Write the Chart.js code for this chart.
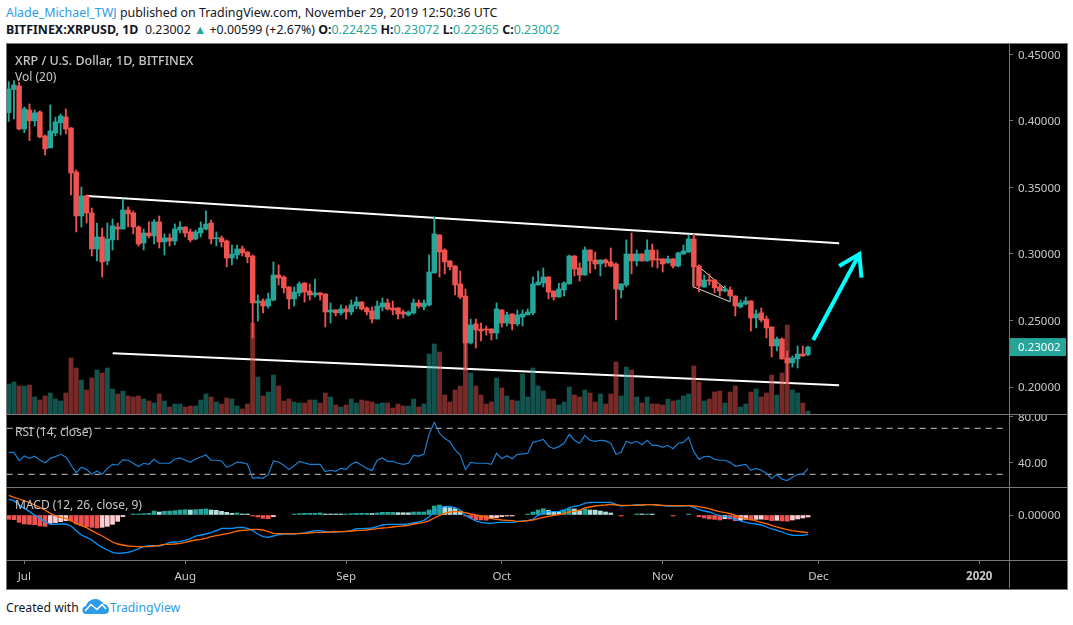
<!DOCTYPE html>
<html><head><meta charset="utf-8">
<script src="https://cdn.jsdelivr.net/npm/chart.js@4/dist/chart.umd.min.js"></script>
<style>
html,body{margin:0;padding:0;background:#fff;width:1073px;height:625px;overflow:hidden;font-family:"Noto Sans",sans-serif}
.t{position:absolute;white-space:nowrap;line-height:16px}
canvas{position:absolute;display:block}
.frame{position:absolute;left:6px;top:43px;width:1060px;height:545px;background:#000;border:1px solid #787878;box-sizing:content-box}
.ln{position:absolute;background:#787878}
.leg{color:#c8c8c8;font-size:12px;z-index:5}
</style></head><body>
<div class="t" style="left:6px;top:5px;font-size:12.4px;color:#131722"><span style="color:#2e9be6">Alade_Michael_TWJ</span> published on TradingView.com, November 29, 2019 12:50:36 UTC</div>
<div class="t" style="left:6px;top:22px;font-size:12.4px;color:#131722"><b>BITFINEX:XRPUSD, 1D</b>&nbsp; 0.23002 <span style="color:#26a69a">▲</span> +0.00599 (+2.67%) <b>O:</b><span style="color:#26a69a">0.22425</span> <b>H:</b><span style="color:#26a69a">0.23072</span> <b>L:</b><span style="color:#26a69a">0.22365</span> <b>C:</b><span style="color:#26a69a">0.23002</span></div>
<div class="frame"></div>
<canvas id="main" width="1059" height="370" style="left:7px;top:44px"></canvas>
<canvas id="rsi" width="1059" height="72" style="left:7px;top:415px"></canvas>
<canvas id="macd" width="1059" height="100" style="left:7px;top:488px"></canvas>
<div class="ln" style="left:6px;top:414px;width:1061px;height:1px"></div>
<div class="ln" style="left:6px;top:487px;width:1061px;height:1px"></div>
<div class="ln" style="left:6px;top:560px;width:1061px;height:1px"></div>
<div class="ln" style="left:1009px;top:43px;width:1px;height:545px"></div>
<div class="t leg" style="left:15px;top:53px;font-size:12.5px;font-weight:500">XRP / U.S. Dollar, 1D, BITFINEX</div>
<div class="t leg" style="left:15px;top:69px">Vol (20)</div>
<div class="t leg" style="left:15px;top:424px">RSI (14, close)</div>
<div class="t leg" style="left:15px;top:497px">MACD (12, 26, close, 9)</div>
<div class="t" style="left:6px;top:600px;font-size:12.2px;color:#131722">Created with</div>
<svg style="position:absolute;left:82px;top:598px" width="27" height="17" viewBox="0 0 27 17"><path d="M4 16 C1 16 0 13 0.5 11 C1 9 3 8 4 8 C5 4 9 1 13 1 C17 1 20 3 21.5 6 C24.5 6 27 9 27 12 C27 15 24.5 16 22 16 Z" fill="#2e9be6"/><path d="M3 13 L9 6.5 L15 11.5 L20 6.5 L24 11" fill="none" stroke="#fff" stroke-width="1.6"/></svg>
<div class="t" style="left:110px;top:600px;font-size:12.2px;color:#2e9be6">TradingView</div>
<script>
const monthTickDays=[0,31,62,92,123,153,184];
const monthTickLabels=['Jul','Aug','Sep','Oct','Nov','Dec','2020'];
const priceTicks=[0.45,0.40,0.35,0.30,0.25,0.20];
const lastPrice=0.23002;
const rsiTicks=[80,40];
const macdTicks=[0];
const opens=[.4063,.4236,.4264,.3940,.4083,.4001,.4068,.3888,.3798,.3910,.3986,.4031,.3948,.3617,.3286,.3437,.3309,.3038,.3128,.2948,.3106,.3203,.3188,.3331,.3309,.3203,.3083,.3158,.3136,.3241,.3091,.3121,.3098,.3181,.3203,.3166,.3113,.3158,.3188,.3233,.3116,.3121,.3098,.2970,.2993,.3038,.3015,.2985,.2632,.2647,.2609,.2654,.2842,.2827,.2752,.2662,.2707,.2782,.2722,.2692,.2707,.2699,.2564,.2579,.2557,.2587,.2564,.2609,.2639,.2594,.2572,.2511,.2602,.2632,.2594,.2594,.2564,.2542,.2557,.2632,.2602,.2617,.2857,.3143,.3030,.2948,.2910,.2775,.2684,.2331,.2474,.2436,.2436,.2436,.2406,.2579,.2481,.2549,.2474,.2526,.2542,.2557,.2767,.2782,.2827,.2722,.2677,.2730,.2775,.2985,.2895,.2842,.3030,.2955,.2925,.2955,.2940,.2925,.2730,.2767,.3000,.2948,.3000,.2948,.3030,.2963,.2963,.2933,.2963,.2910,.3000,.3015,.3113,.2910,.2752,.2805,.2805,.2752,.2722,.2730,.2684,.2602,.2624,.2647,.2519,.2557,.2511,.2451,.2308,.2361,.2218,.2181,.2211,.2248,.22425];
const highs=[.4296,.4304,.4291,.4105,.4128,.4083,.4076,.3895,.4121,.4028,.4053,.4091,.3950,.3632,.3504,.3444,.3346,.3233,.3196,.3233,.3264,.3233,.3414,.3354,.3324,.3211,.3188,.3241,.3256,.3286,.3151,.3151,.3226,.3241,.3205,.3188,.3181,.3241,.3324,.3256,.3166,.3136,.3106,.3068,.3068,.3060,.3018,.2993,.2692,.2662,.2707,.2940,.2918,.2835,.2755,.2752,.2790,.2785,.2775,.2812,.2710,.2702,.2632,.2582,.2617,.2609,.2654,.2677,.2642,.2602,.2602,.2647,.2669,.2662,.2647,.2597,.2579,.2572,.2662,.2654,.2654,.2993,.3279,.3146,.3040,.2950,.2912,.2872,.2737,.2511,.2511,.2481,.2459,.2438,.2632,.2582,.2564,.2552,.2579,.2579,.2587,.2827,.2872,.2895,.2830,.2724,.2780,.2790,.2993,.2988,.2933,.3053,.3032,.3015,.2957,.2963,.3045,.2933,.2777,.3106,.3158,.3030,.3002,.3106,.3075,.3030,.2965,.2985,.2965,.3015,.3068,.3143,.3151,.2918,.2842,.2850,.2807,.2767,.2760,.2752,.2686,.2654,.2677,.2649,.2579,.2594,.2534,.2453,.2376,.2369,.2271,.2233,.2308,.2308,.23072];
const lows=[.3996,.4016,.3933,.3913,.3853,.3963,.3873,.3745,.3798,.3888,.3895,.3903,.3444,.3166,.3203,.3233,.2985,.2948,.2827,.2918,.3030,.3106,.3188,.3203,.3151,.3060,.3030,.3121,.3075,.3045,.2993,.3060,.3068,.3158,.3128,.3091,.3106,.3128,.3181,.3075,.3060,.3053,.2903,.2918,.2963,.2985,.2933,.2369,.2496,.2557,.2594,.2647,.2767,.2707,.2587,.2609,.2684,.2639,.2654,.2677,.2654,.2451,.2481,.2534,.2542,.2511,.2542,.2587,.2579,.2542,.2481,.2511,.2572,.2579,.2542,.2511,.2519,.2534,.2549,.2594,.2579,.2609,.2857,.2827,.2850,.2880,.2692,.2662,.2128,.2323,.2293,.2346,.2391,.2353,.2361,.2451,.2459,.2429,.2459,.2459,.2542,.2542,.2767,.2752,.2662,.2654,.2675,.2684,.2773,.2835,.2797,.2840,.2857,.2887,.2835,.2903,.2903,.2504,.2669,.2752,.2850,.2910,.2946,.2946,.2903,.2895,.2865,.2931,.2895,.2903,.2998,.3013,.2745,.2714,.2750,.2767,.2707,.2684,.2714,.2682,.2534,.2594,.2617,.2421,.2444,.2489,.2369,.2226,.2271,.2209,.2025,.2150,.2143,.2231,.22365];
const closes=[.4241,.4271,.3940,.4091,.4001,.4061,.3880,.3790,.3925,.3993,.4038,.3940,.3609,.3286,.3437,.3309,.3038,.3128,.2940,.3113,.3211,.3188,.3331,.3301,.3203,.3075,.3158,.3136,.3241,.3091,.3121,.3098,.3188,.3203,.3158,.3106,.3166,.3196,.3226,.3113,.3120,.3091,.2970,.3000,.3038,.3008,.2978,.2632,.2647,.2609,.2662,.2842,.2820,.2745,.2662,.2714,.2775,.2714,.2692,.2707,.2692,.2564,.2579,.2557,.2587,.2564,.2617,.2639,.2587,.2564,.2511,.2609,.2632,.2587,.2579,.2549,.2549,.2564,.2632,.2609,.2632,.2865,.3151,.3015,.2940,.2903,.2767,.2677,.2331,.2466,.2429,.2421,.2429,.2406,.2587,.2481,.2542,.2474,.2542,.2549,.2564,.2775,.2790,.2827,.2714,.2677,.2737,.2782,.2985,.2887,.2842,.3030,.2948,.2925,.2955,.2933,.2910,.2737,.2775,.3000,.2948,.3000,.2948,.3030,.2955,.2955,.2925,.2963,.2910,.3008,.3023,.3113,.2903,.2760,.2805,.2797,.2745,.2722,.2737,.2684,.2609,.2632,.2647,.2519,.2549,.2504,.2444,.2308,.2361,.2211,.2181,.2218,.2248,.2233,.23002];
const volumes=[30,32,28,28,29,17,14,18,21,15,13,21,56,46,34,24,36,44,41,46,25,20,23,18,17,18,15,13,11,20,13,7,10,10,7,8,8,14,20,17,12,10,16,15,8,5,10,91,37,18,22,39,28,13,15,12,11,11,14,14,11,21,17,9,7,9,15,11,14,13,12,10,11,11,6,10,8,8,15,7,10,60,70,62,19,12,24,28,71,41,28,19,10,12,36,26,18,14,13,40,17,46,28,23,15,15,9,12,27,19,17,24,21,12,20,10,20,52,18,47,44,17,11,17,10,10,9,15,13,14,18,20,48,32,13,15,22,23,11,22,28,7,10,22,25,17,21,39,19,41,89,24,21,11,3];
const rsiValues=[49.1,49.1,41.9,45.9,43.9,45.7,42.5,40.1,43.9,45.4,47.4,45.1,38.1,31.4,36.1,34.3,30,32.9,30,35.2,38.7,38.1,42.5,42.2,39.6,36.7,39.6,38.7,43,39.6,39.6,39.6,43.3,44.2,42.5,40.4,43.3,45.1,46.8,42.2,42.2,41.6,36.1,38.1,40.7,40.1,38.7,26.5,27.1,26.5,29.7,41.6,40.7,37.8,34.1,37.5,41.3,39.9,38.7,38.7,38.7,32.3,33.5,32.6,35.2,34.3,38.7,40.7,37.8,35.2,33.2,42.2,44.2,41.3,41.3,39.6,38.7,39.6,46.5,45.9,47.4,65.1,75.2,65.7,61.3,58.4,51.2,46.8,34.1,40.4,39.6,39.6,39.6,38.7,48.3,43.6,46.2,43.6,47.4,47.7,48.3,57.8,59,60.4,54.6,52.3,54.1,57,64.8,59.6,57,63.9,59.6,58.7,59.6,59,57,47.4,49.1,58.7,57,58.7,55.8,59.6,55.2,55.2,53.5,55.2,52.3,57,57.8,62.2,49.7,43,45.4,45.7,43,42.2,42.2,40.4,37,37.8,38.7,33.5,35.2,33.5,30.9,26.2,29.7,25.7,24.5,27.4,30,30,35.2];
const macdLine=[.01175,.01075,.0075,.005,.0025,0,-.0025,-.005,-.007,-.007,-.00675,-.00675,-.00825,-.01175,-.015,-.01675,-.01875,-.02175,-.02425,-.02625,-.028,-.02875,-.0285,-.028,-.027,-.02525,-.02375,-.023,-.023,-.02325,-.02225,-.02075,-.02025,-.02,-.019,-.01775,-.01575,-.015,-.01425,-.01325,-.01175,-.01,-.01,-.01,-.0095,-.00925,-.01,-.01175,-.01425,-.01625,-.01675,-.01575,-.01475,-.01425,-.01425,-.01425,-.01375,-.0135,-.0125,-.01175,-.01175,-.0125,-.01275,-.01275,-.0125,-.0125,-.01175,-.01025,-.01025,-.01,-.00975,-.00875,-.0075,-.007,-.007,-.007,-.007,-.00675,-.006,-.00525,-.004,-.00125,.00225,.005,.00625,.0065,.0055,.00375,-.00025,-.0025,-.0045,-.0055,-.006,-.00625,-.00575,-.0055,-.0055,-.0055,-.005,-.0045,-.00425,-.003,-.00025,.00175,.0025,.0025,.00275,.00375,.0055,.0065,.00725,.00875,.0095,.0095,.0095,.0095,.0095,.008,.00675,.007,.00725,.00775,.0075,.00775,.00775,.0075,.007,.00675,.00675,.00675,.00675,.007,.00575,.004,.003,.00225,.00075,-.0005,-.00125,-.00175,-.00325,-.0045,-.0055,-.00625,-.00675,-.0075,-.009,-.0105,-.0115,-.01275,-.01425,-.01525,-.01525,-.01525,-.0145];
const signalLine=[.01475,.01325,.012,.01075,.00925,.0075,.00575,.00375,.00125,-.00075,-.00175,-.0025,-.00425,-.00625,-.008,-.0095,-.01175,-.01375,-.01575,-.018,-.02025,-.02175,-.0225,-.02325,-.0235,-.02375,-.02375,-.02375,-.02325,-.02275,-.022,-.022,-.02175,-.02125,-.0205,-.0195,-.01875,-.01825,-.0175,-.01625,-.0155,-.01475,-.014,-.01325,-.012,-.0115,-.01125,-.01075,-.01075,-.01125,-.0125,-.01375,-.014,-.014,-.014,-.014,-.014,-.01375,-.0135,-.013,-.013,-.013,-.01275,-.0125,-.0125,-.01225,-.012,-.01175,-.0115,-.01125,-.01075,-.01025,-.00975,-.0095,-.009,-.0085,-.00825,-.00775,-.00675,-.00625,-.0055,-.00425,-.00225,-.00025,.00125,.00225,.0025,.0025,.00175,.00075,0,-.00075,-.00175,-.00275,-.00325,-.00375,-.004,-.00425,-.00475,-.00475,-.00425,-.00375,-.00275,-.00175,-.001,-.00025,.00025,.001,.00225,.00275,.00375,.00525,.006,.00675,.00725,.0075,.008,.0075,.00725,.00725,.00725,.00725,.0075,.00775,.00775,.0075,.00725,.007,.007,.007,.007,.007,.00675,.00625,.0055,.00475,.0035,.0025,.00175,.001,-.00025,-.00175,-.0025,-.00325,-.0045,-.0055,-.0065,-.00775,-.009,-.01,-.011,-.01175,-.01225,-.01275,-.01325];
const histValues=[-.00325,-.0035,-.0055,-.00675,-.007,-.00725,-.00825,-.0085,-.00625,-.00575,-.005,-.00425,-.0045,-.00675,-.008,-.00875,-.00925,-.00975,-.00925,-.0085,-.007,-.00475,-.00125,null,.0005,.00075,.001,.00125,.003,.00225,.00275,.003,.00325,.00375,.004,.00375,.004,.00425,.0045,.00375,.0035,.00275,.002,.00125,.0015,.00075,.0005,-.0005,-.0015,-.0025,-.00275,-.00125,null,null,null,.00075,.001,.00125,.00125,.00125,.0015,.0005,.00048,.00045,.00043,.00075,.001,.00125,.00125,.00125,.00113,.0015,.002,.002,.002,.00175,.0017,.00165,.00225,.00225,.00225,.00375,.00675,.0075,.00625,.0055,.00475,.003,-.00025,-.002,-.0035,-.00375,-.00388,-.0025,-.002,-.00125,-.0005,-.00048,null,null,.0005,.00225,.00375,.00475,.0035,.00275,.0025,.00375,.00475,.0045,.00325,.0045,.00375,.00363,.003,.00225,.0015,null,-.00025,null,null,.0005,.00045,.0005,.00045,null,null,null,-.00025,null,null,.0005,null,-.00125,-.00225,-.003,-.00325,-.00375,-.00275,-.003,-.00425,-.004,-.00325,-.00375,-.00325,-.00313,-.0035,-.00425,-.004,-.0045,-.00463,-.00375,-.003,-.00225,-.0015];
const upperTrendDays=[12.08,157.0], upperTrendPrices=[.3436,.3080];
const lowerTrendDays=[17.03,157.0], lowerTrendPrices=[.2253,.2013];
const wedgeTopDays=[130.2,135.3], wedgeTopPrices=[.2897,.2729];
const wedgeBottomDays=[128.9,128.9,136.0,136.0], wedgeBottomPrices=[.2925,.2754,.2641,.2714];
const arrowDays=[152.0,160.9], arrowPrices=[.2353,.3000];
const arrowHeadDays=[157.0,160.9,161.3], arrowHeadPrices=[.2910,.3000,.2822];
const rsiBandDays=[-3.4,188.6], rsiUpperBand=[70,70], rsiLowerBand=[30,30];

[opens,highs,lows,closes,volumes,rsiValues,macdLine,signalLine,histValues].forEach((a,k)=>{if(a.length!==155)throw new Error('len '+k+' '+a.length)});

const days=opens.map((_,i)=>i-3);
const UP='#26a69a',DOWN='#ef5350',AXIS='#787878',TXT='#c8c8c8';
const FONT='"Noto Sans",sans-serif';
const isUp=i=>closes[i]>=opens[i];
const pts=(xs,ys)=>xs.map((x,i)=>({x,y:ys[i]}));
const line=(xs,ys,color,w,order,extra)=>Object.assign({type:'line',data:pts(xs,ys),borderColor:color,borderWidth:w,pointRadius:0,tension:0,fill:false,order},extra||{});

const xBase={type:'linear',offset:false,min:-3.333,max:189.73,display:false,grid:{display:false}};
function yAxis(min,max,ticks,fmt,tickColor){
  return {position:'right',min,max,beginAtZero:false,
    afterFit(s){s.width=57;s.paddingTop=0;s.paddingBottom=0},
    afterBuildTicks(s){s.ticks=ticks.map(v=>({value:v}))},
    border:{display:false},
    grid:{drawOnChartArea:false,drawTicks:true,tickLength:4,color:AXIS},
    ticks:{autoSkip:false,crossAlign:'near',padding:5,labelOffset:1,color:tickColor||TXT,font:{family:FONT,size:11.5},callback:fmt}};
}
const base={responsive:false,animation:false,events:[],layout:{padding:0,autoPadding:false},plugins:{legend:{display:false},tooltip:{enabled:false}}};

const priceTag={id:'priceTag',beforeDraw(c){
  const y=c.scales.y.getPixelForValue(lastPrice),g=c.ctx;
  g.save();g.fillStyle=UP;g.fillRect(c.chartArea.right,y-9,57,18);g.restore();
}};

new Chart(document.getElementById('main'),{
  type:'bar',
  data:{datasets:[
    {data:days.map((d,i)=>({x:d,y:[opens[i],closes[i]]})),backgroundColor:days.map((d,i)=>isUp(i)?UP:DOWN),maxBarThickness:4.8,minBarLength:1,categoryPercentage:1,barPercentage:1,grouped:false,order:0,yAxisID:'y'},
    {data:days.map((d,i)=>({x:d,y:[lows[i],highs[i]]})),backgroundColor:days.map((d,i)=>isUp(i)?UP:DOWN),maxBarThickness:1.2,categoryPercentage:1,barPercentage:1,grouped:false,order:1,yAxisID:'y'},
    {data:days.map((d,i)=>({x:d,y:volumes[i]})),backgroundColor:days.map((d,i)=>isUp(i)?'rgba(38,166,154,.5)':'rgba(239,83,80,.5)'),maxBarThickness:4.2,categoryPercentage:1,barPercentage:1,grouped:false,order:2,yAxisID:'yVol'},
    line(upperTrendDays,upperTrendPrices,'#fff',2,3),
    line(lowerTrendDays,lowerTrendPrices,'#fff',2,3),
    line(wedgeTopDays,wedgeTopPrices,'#d8d8d8',1,3),
    line(wedgeBottomDays,wedgeBottomPrices,'#d8d8d8',1,3),
    line(arrowDays,arrowPrices,'#00ffff',4,3),
    line(arrowHeadDays,arrowHeadPrices,'#00ffff',4,3)
  ]},
  options:Object.assign({},base,{scales:{
    x:xBase,
    y:yAxis(.1797,.45789,priceTicks.concat([lastPrice]),v=>v.toFixed(5),c=>c.tick&&c.tick.value===lastPrice?'#fff':TXT),
    yVol:{display:false,min:0,max:370}
  }}),
  plugins:[priceTag]
});

new Chart(document.getElementById('rsi'),{
  type:'line',
  data:{datasets:[
    line(days,rsiValues,'#1a7fd0',1.2,0),
    line(rsiBandDays,rsiUpperBand,'#c8c8c8',1,1,{borderDash:[6,5]}),
    line(rsiBandDays,rsiLowerBand,'#c8c8c8',1,1,{borderDash:[6,5]})
  ]},
  options:Object.assign({},base,{scales:{x:xBase,y:yAxis(18.96,81.57,rsiTicks,v=>v.toFixed(2))}})
});

const histColor=i=>{
  const v=histValues[i]??0,p=i>0?(histValues[i-1]??0):0;
  if(v>=0)return (v>=p&&i>0)?UP:'#b2dfdb';
  return v>p?'#ffcdd2':DOWN;
};
new Chart(document.getElementById('macd'),{
  type:'bar',
  data:{datasets:[
    {data:days.map((d,i)=>({x:d,y:histValues[i]})),backgroundColor:days.map((d,i)=>histColor(i)),maxBarThickness:4,minBarLength:1,categoryPercentage:1,barPercentage:1,grouped:false,order:2},
    line(days,macdLine,'#0496ff',1.3,1),
    line(days,signalLine,'#ff6a00',1.3,0)
  ]},
  options:Object.assign({},base,{scales:{
    x:{type:'linear',offset:false,position:'bottom',min:-3.333,max:189.73,
       afterFit(s){s.height=28;s.paddingLeft=0;s.paddingRight=0},
       afterBuildTicks(s){s.ticks=monthTickDays.map(v=>({value:v}))},
       border:{display:false},
       grid:{offset:false,drawOnChartArea:false,drawTicks:true,tickLength:4,color:AXIS},
       ticks:{autoSkip:false,maxRotation:0,padding:6,color:TXT,
         font:c=>({family:FONT,size:11.5,weight:c.tick&&c.tick.value===184?'bold':'normal'}),
         callback:v=>monthTickLabels[monthTickDays.indexOf(v)]}},
    y:yAxis(-.03375,.02025,macdTicks,v=>v.toFixed(5))
  }})
});
</script>
</body></html>
